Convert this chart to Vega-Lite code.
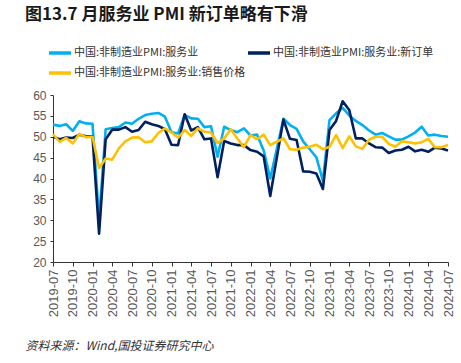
{
  "$schema": "https://vega.github.io/schema/vega-lite/v6.json",
  "width": 395,
  "height": 167,
  "autosize": {"type": "none"},
  "padding": {"left": 53, "top": 95, "right": 13, "bottom": 101},
  "background": "white",
  "config": {"view": {"stroke": null}, "font": "Liberation Sans"},
  "title": {
    "text": "图13.7 月服务业 PMI 新订单略有下滑",
    "anchor": "start",
    "frame": "group",
    "dx": -28,
    "offset": 3,
    "baseline": "alphabetic",
    "font": "Noto Sans CJK SC",
    "fontSize": 17,
    "fontWeight": "bold",
    "color": "#1a1a1a"
  },
  "datasets": {
    "pmi": [
      {"month":"2019-07","series":"中国:非制造业PMI:服务业","value":52.9},
      {"month":"2019-08","series":"中国:非制造业PMI:服务业","value":52.6},
      {"month":"2019-09","series":"中国:非制造业PMI:服务业","value":53.0},
      {"month":"2019-10","series":"中国:非制造业PMI:服务业","value":51.4},
      {"month":"2019-11","series":"中国:非制造业PMI:服务业","value":53.7},
      {"month":"2019-12","series":"中国:非制造业PMI:服务业","value":53.2},
      {"month":"2020-01","series":"中国:非制造业PMI:服务业","value":53.1},
      {"month":"2020-02","series":"中国:非制造业PMI:服务业","value":30.1},
      {"month":"2020-03","series":"中国:非制造业PMI:服务业","value":51.8},
      {"month":"2020-04","series":"中国:非制造业PMI:服务业","value":52.1},
      {"month":"2020-05","series":"中国:非制造业PMI:服务业","value":52.3},
      {"month":"2020-06","series":"中国:非制造业PMI:服务业","value":53.4},
      {"month":"2020-07","series":"中国:非制造业PMI:服务业","value":53.1},
      {"month":"2020-08","series":"中国:非制造业PMI:服务业","value":54.3},
      {"month":"2020-09","series":"中国:非制造业PMI:服务业","value":55.2},
      {"month":"2020-10","series":"中国:非制造业PMI:服务业","value":55.5},
      {"month":"2020-11","series":"中国:非制造业PMI:服务业","value":55.7},
      {"month":"2020-12","series":"中国:非制造业PMI:服务业","value":54.8},
      {"month":"2021-01","series":"中国:非制造业PMI:服务业","value":51.1},
      {"month":"2021-02","series":"中国:非制造业PMI:服务业","value":50.8},
      {"month":"2021-03","series":"中国:非制造业PMI:服务业","value":55.2},
      {"month":"2021-04","series":"中国:非制造业PMI:服务业","value":54.4},
      {"month":"2021-05","series":"中国:非制造业PMI:服务业","value":54.3},
      {"month":"2021-06","series":"中国:非制造业PMI:服务业","value":52.3},
      {"month":"2021-07","series":"中国:非制造业PMI:服务业","value":52.5},
      {"month":"2021-08","series":"中国:非制造业PMI:服务业","value":45.2},
      {"month":"2021-09","series":"中国:非制造业PMI:服务业","value":52.4},
      {"month":"2021-10","series":"中国:非制造业PMI:服务业","value":51.6},
      {"month":"2021-11","series":"中国:非制造业PMI:服务业","value":51.1},
      {"month":"2021-12","series":"中国:非制造业PMI:服务业","value":52.0},
      {"month":"2022-01","series":"中国:非制造业PMI:服务业","value":50.3},
      {"month":"2022-02","series":"中国:非制造业PMI:服务业","value":50.5},
      {"month":"2022-03","series":"中国:非制造业PMI:服务业","value":46.7},
      {"month":"2022-04","series":"中国:非制造业PMI:服务业","value":40.0},
      {"month":"2022-05","series":"中国:非制造业PMI:服务业","value":47.1},
      {"month":"2022-06","series":"中国:非制造业PMI:服务业","value":54.3},
      {"month":"2022-07","series":"中国:非制造业PMI:服务业","value":52.8},
      {"month":"2022-08","series":"中国:非制造业PMI:服务业","value":51.9},
      {"month":"2022-09","series":"中国:非制造业PMI:服务业","value":48.9},
      {"month":"2022-10","series":"中国:非制造业PMI:服务业","value":47.0},
      {"month":"2022-11","series":"中国:非制造业PMI:服务业","value":45.1},
      {"month":"2022-12","series":"中国:非制造业PMI:服务业","value":39.4},
      {"month":"2023-01","series":"中国:非制造业PMI:服务业","value":54.0},
      {"month":"2023-02","series":"中国:非制造业PMI:服务业","value":55.6},
      {"month":"2023-03","series":"中国:非制造业PMI:服务业","value":56.9},
      {"month":"2023-04","series":"中国:非制造业PMI:服务业","value":55.1},
      {"month":"2023-05","series":"中国:非制造业PMI:服务业","value":53.8},
      {"month":"2023-06","series":"中国:非制造业PMI:服务业","value":52.8},
      {"month":"2023-07","series":"中国:非制造业PMI:服务业","value":51.5},
      {"month":"2023-08","series":"中国:非制造业PMI:服务业","value":50.5},
      {"month":"2023-09","series":"中国:非制造业PMI:服务业","value":50.9},
      {"month":"2023-10","series":"中国:非制造业PMI:服务业","value":50.1},
      {"month":"2023-11","series":"中国:非制造业PMI:服务业","value":49.3},
      {"month":"2023-12","series":"中国:非制造业PMI:服务业","value":49.3},
      {"month":"2024-01","series":"中国:非制造业PMI:服务业","value":50.1},
      {"month":"2024-02","series":"中国:非制造业PMI:服务业","value":51.0},
      {"month":"2024-03","series":"中国:非制造业PMI:服务业","value":52.4},
      {"month":"2024-04","series":"中国:非制造业PMI:服务业","value":50.3},
      {"month":"2024-05","series":"中国:非制造业PMI:服务业","value":50.5},
      {"month":"2024-06","series":"中国:非制造业PMI:服务业","value":50.2},
      {"month":"2024-07","series":"中国:非制造业PMI:服务业","value":50.0},
      {"month":"2019-07","series":"中国:非制造业PMI:服务业:新订单","value":50.0},
      {"month":"2019-08","series":"中国:非制造业PMI:服务业:新订单","value":49.4},
      {"month":"2019-09","series":"中国:非制造业PMI:服务业:新订单","value":49.8},
      {"month":"2019-10","series":"中国:非制造业PMI:服务业:新订单","value":49.7},
      {"month":"2019-11","series":"中国:非制造业PMI:服务业:新订单","value":50.5},
      {"month":"2019-12","series":"中国:非制造业PMI:服务业:新订单","value":50.1},
      {"month":"2020-01","series":"中国:非制造业PMI:服务业:新订单","value":50.1},
      {"month":"2020-02","series":"中国:非制造业PMI:服务业:新订单","value":26.8},
      {"month":"2020-03","series":"中国:非制造业PMI:服务业:新订单","value":49.4},
      {"month":"2020-04","series":"中国:非制造业PMI:服务业:新订单","value":51.7},
      {"month":"2020-05","series":"中国:非制造业PMI:服务业:新订单","value":51.7},
      {"month":"2020-06","series":"中国:非制造业PMI:服务业:新订单","value":52.3},
      {"month":"2020-07","series":"中国:非制造业PMI:服务业:新订单","value":51.2},
      {"month":"2020-08","series":"中国:非制造业PMI:服务业:新订单","value":51.6},
      {"month":"2020-09","series":"中国:非制造业PMI:服务业:新订单","value":53.6},
      {"month":"2020-10","series":"中国:非制造业PMI:服务业:新订单","value":53.0},
      {"month":"2020-11","series":"中国:非制造业PMI:服务业:新订单","value":52.6},
      {"month":"2020-12","series":"中国:非制造业PMI:服务业:新订单","value":51.8},
      {"month":"2021-01","series":"中国:非制造业PMI:服务业:新订单","value":48.1},
      {"month":"2021-02","series":"中国:非制造业PMI:服务业:新订单","value":48.0},
      {"month":"2021-03","series":"中国:非制造业PMI:服务业:新订单","value":55.4},
      {"month":"2021-04","series":"中国:非制造业PMI:服务业:新订单","value":51.5},
      {"month":"2021-05","series":"中国:非制造业PMI:服务业:新订单","value":52.3},
      {"month":"2021-06","series":"中国:非制造业PMI:服务业:新订单","value":49.4},
      {"month":"2021-07","series":"中国:非制造业PMI:服务业:新订单","value":49.6},
      {"month":"2021-08","series":"中国:非制造业PMI:服务业:新订单","value":40.3},
      {"month":"2021-09","series":"中国:非制造业PMI:服务业:新订单","value":49.0},
      {"month":"2021-10","series":"中国:非制造业PMI:服务业:新订单","value":48.4},
      {"month":"2021-11","series":"中国:非制造业PMI:服务业:新订单","value":48.0},
      {"month":"2021-12","series":"中国:非制造业PMI:服务业:新订单","value":48.0},
      {"month":"2022-01","series":"中国:非制造业PMI:服务业:新订单","value":46.8},
      {"month":"2022-02","series":"中国:非制造业PMI:服务业:新订单","value":46.4},
      {"month":"2022-03","series":"中国:非制造业PMI:服务业:新订单","value":45.3},
      {"month":"2022-04","series":"中国:非制造业PMI:服务业:新订单","value":35.8},
      {"month":"2022-05","series":"中国:非制造业PMI:服务业:新订单","value":45.0},
      {"month":"2022-06","series":"中国:非制造业PMI:服务业:新订单","value":54.1},
      {"month":"2022-07","series":"中国:非制造业PMI:服务业:新订单","value":49.5},
      {"month":"2022-08","series":"中国:非制造业PMI:服务业:新订单","value":49.2},
      {"month":"2022-09","series":"中国:非制造业PMI:服务业:新订单","value":41.7},
      {"month":"2022-10","series":"中国:非制造业PMI:服务业:新订单","value":41.6},
      {"month":"2022-11","series":"中国:非制造业PMI:服务业:新订单","value":41.2},
      {"month":"2022-12","series":"中国:非制造业PMI:服务业:新订单","value":37.5},
      {"month":"2023-01","series":"中国:非制造业PMI:服务业:新订单","value":51.6},
      {"month":"2023-02","series":"中国:非制造业PMI:服务业:新订单","value":53.8},
      {"month":"2023-03","series":"中国:非制造业PMI:服务业:新订单","value":58.5},
      {"month":"2023-04","series":"中国:非制造业PMI:服务业:新订单","value":56.4},
      {"month":"2023-05","series":"中国:非制造业PMI:服务业:新订单","value":49.6},
      {"month":"2023-06","series":"中国:非制造业PMI:服务业:新订单","value":49.6},
      {"month":"2023-07","series":"中国:非制造业PMI:服务业:新订单","value":48.4},
      {"month":"2023-08","series":"中国:非制造业PMI:服务业:新订单","value":47.5},
      {"month":"2023-09","series":"中国:非制造业PMI:服务业:新订单","value":47.4},
      {"month":"2023-10","series":"中国:非制造业PMI:服务业:新订单","value":46.1},
      {"month":"2023-11","series":"中国:非制造业PMI:服务业:新订单","value":46.7},
      {"month":"2023-12","series":"中国:非制造业PMI:服务业:新订单","value":46.9},
      {"month":"2024-01","series":"中国:非制造业PMI:服务业:新订单","value":47.6},
      {"month":"2024-02","series":"中国:非制造业PMI:服务业:新订单","value":46.5},
      {"month":"2024-03","series":"中国:非制造业PMI:服务业:新订单","value":46.9},
      {"month":"2024-04","series":"中国:非制造业PMI:服务业:新订单","value":46.4},
      {"month":"2024-05","series":"中国:非制造业PMI:服务业:新订单","value":47.4},
      {"month":"2024-06","series":"中国:非制造业PMI:服务业:新订单","value":47.2},
      {"month":"2024-07","series":"中国:非制造业PMI:服务业:新订单","value":46.7},
      {"month":"2019-07","series":"中国:非制造业PMI:服务业:销售价格","value":50.6},
      {"month":"2019-08","series":"中国:非制造业PMI:服务业:销售价格","value":48.8},
      {"month":"2019-09","series":"中国:非制造业PMI:服务业:销售价格","value":49.7},
      {"month":"2019-10","series":"中国:非制造业PMI:服务业:销售价格","value":48.4},
      {"month":"2019-11","series":"中国:非制造业PMI:服务业:销售价格","value":50.7},
      {"month":"2019-12","series":"中国:非制造业PMI:服务业:销售价格","value":49.9},
      {"month":"2020-01","series":"中国:非制造业PMI:服务业:销售价格","value":50.0},
      {"month":"2020-02","series":"中国:非制造业PMI:服务业:销售价格","value":42.5},
      {"month":"2020-03","series":"中国:非制造业PMI:服务业:销售价格","value":44.8},
      {"month":"2020-04","series":"中国:非制造业PMI:服务业:销售价格","value":44.5},
      {"month":"2020-05","series":"中国:非制造业PMI:服务业:销售价格","value":47.2},
      {"month":"2020-06","series":"中国:非制造业PMI:服务业:销售价格","value":48.9},
      {"month":"2020-07","series":"中国:非制造业PMI:服务业:销售价格","value":49.8},
      {"month":"2020-08","series":"中国:非制造业PMI:服务业:销售价格","value":49.9},
      {"month":"2020-09","series":"中国:非制造业PMI:服务业:销售价格","value":48.7},
      {"month":"2020-10","series":"中国:非制造业PMI:服务业:销售价格","value":48.9},
      {"month":"2020-11","series":"中国:非制造业PMI:服务业:销售价格","value":50.9},
      {"month":"2020-12","series":"中国:非制造业PMI:服务业:销售价格","value":52.0},
      {"month":"2021-01","series":"中国:非制造业PMI:服务业:销售价格","value":51.0},
      {"month":"2021-02","series":"中国:非制造业PMI:服务业:销售价格","value":49.8},
      {"month":"2021-03","series":"中国:非制造业PMI:服务业:销售价格","value":51.6},
      {"month":"2021-04","series":"中国:非制造业PMI:服务业:销售价格","value":50.2},
      {"month":"2021-05","series":"中国:非制造业PMI:服务业:销售价格","value":52.0},
      {"month":"2021-06","series":"中国:非制造业PMI:服务业:销售价格","value":51.2},
      {"month":"2021-07","series":"中国:非制造业PMI:服务业:销售价格","value":51.0},
      {"month":"2021-08","series":"中国:非制造业PMI:服务业:销售价格","value":48.5},
      {"month":"2021-09","series":"中国:非制造业PMI:服务业:销售价格","value":49.6},
      {"month":"2021-10","series":"中国:非制造业PMI:服务业:销售价格","value":51.8},
      {"month":"2021-11","series":"中国:非制造业PMI:服务业:销售价格","value":49.6},
      {"month":"2021-12","series":"中国:非制造业PMI:服务业:销售价格","value":47.5},
      {"month":"2022-01","series":"中国:非制造业PMI:服务业:销售价格","value":50.4},
      {"month":"2022-02","series":"中国:非制造业PMI:服务业:销售价格","value":49.4},
      {"month":"2022-03","series":"中国:非制造业PMI:服务业:销售价格","value":50.5},
      {"month":"2022-04","series":"中国:非制造业PMI:服务业:销售价格","value":48.0},
      {"month":"2022-05","series":"中国:非制造业PMI:服务业:销售价格","value":48.8},
      {"month":"2022-06","series":"中国:非制造业PMI:服务业:销售价格","value":49.6},
      {"month":"2022-07","series":"中国:非制造业PMI:服务业:销售价格","value":47.0},
      {"month":"2022-08","series":"中国:非制造业PMI:服务业:销售价格","value":46.9},
      {"month":"2022-09","series":"中国:非制造业PMI:服务业:销售价格","value":47.4},
      {"month":"2022-10","series":"中国:非制造业PMI:服务业:销售价格","value":47.6},
      {"month":"2022-11","series":"中国:非制造业PMI:服务业:销售价格","value":48.1},
      {"month":"2022-12","series":"中国:非制造业PMI:服务业:销售价格","value":47.0},
      {"month":"2023-01","series":"中国:非制造业PMI:服务业:销售价格","value":47.6},
      {"month":"2023-02","series":"中国:非制造业PMI:服务业:销售价格","value":50.4},
      {"month":"2023-03","series":"中国:非制造业PMI:服务业:销售价格","value":47.3},
      {"month":"2023-04","series":"中国:非制造业PMI:服务业:销售价格","value":50.1},
      {"month":"2023-05","series":"中国:非制造业PMI:服务业:销售价格","value":47.7},
      {"month":"2023-06","series":"中国:非制造业PMI:服务业:销售价格","value":47.1},
      {"month":"2023-07","series":"中国:非制造业PMI:服务业:销售价格","value":49.3},
      {"month":"2023-08","series":"中国:非制造业PMI:服务业:销售价格","value":50.0},
      {"month":"2023-09","series":"中国:非制造业PMI:服务业:销售价格","value":50.0},
      {"month":"2023-10","series":"中国:非制造业PMI:服务业:销售价格","value":48.3},
      {"month":"2023-11","series":"中国:非制造业PMI:服务业:销售价格","value":47.6},
      {"month":"2023-12","series":"中国:非制造业PMI:服务业:销售价格","value":48.9},
      {"month":"2024-01","series":"中国:非制造业PMI:服务业:销售价格","value":48.7},
      {"month":"2024-02","series":"中国:非制造业PMI:服务业:销售价格","value":48.4},
      {"month":"2024-03","series":"中国:非制造业PMI:服务业:销售价格","value":48.7},
      {"month":"2024-04","series":"中国:非制造业PMI:服务业:销售价格","value":49.5},
      {"month":"2024-05","series":"中国:非制造业PMI:服务业:销售价格","value":47.5},
      {"month":"2024-06","series":"中国:非制造业PMI:服务业:销售价格","value":47.5},
      {"month":"2024-07","series":"中国:非制造业PMI:服务业:销售价格","value":48.0}
    ]
  },
  "data": {"name": "pmi"},
  "mark": {"type": "line", "strokeWidth": 2.6, "strokeJoin": "round"},
  "encoding": {
    "x": {
      "field": "month",
      "type": "ordinal",
      "sort": null,
      "scale": {"type": "point", "padding": 0},
      "axis": {
        "values": ["2019-07","2019-10","2020-01","2020-04","2020-07","2020-10","2021-01","2021-04","2021-07","2021-10","2022-01","2022-04","2022-07","2022-10","2023-01","2023-04","2023-07","2023-10","2024-01","2024-04","2024-07"],
        "labelAngle": -90,
        "labelFontSize": 13,
        "labelColor": "#595959",
        "labelPadding": 3,
        "tickSize": 4,
        "tickColor": "#333333",
        "domainColor": "#333333",
        "grid": false,
        "title": "资料来源：Wind,国投证券研究中心",
        "titleFont": "Noto Sans CJK SC",
        "titleFontStyle": "italic",
        "titleFontWeight": "normal",
        "titleFontSize": 12,
        "titleColor": "#333333",
        "titleAnchor": "start",
        "titleAlign": "left",
        "titleBaseline": "alphabetic",
        "titleX": -28,
        "titleY": 87
      }
    },
    "y": {
      "field": "value",
      "type": "quantitative",
      "scale": {"domain": [20, 60], "nice": false, "zero": false},
      "axis": {
        "values": [20,25,30,35,40,45,50,55,60],
        "labelFontSize": 12,
        "labelColor": "#595959",
        "labelPadding": 4,
        "tickSize": 3,
        "tickColor": "#333333",
        "domainColor": "#333333",
        "grid": false,
        "title": null
      }
    },
    "color": {
      "field": "series",
      "type": "nominal",
      "scale": {
        "domain": ["中国:非制造业PMI:服务业", "中国:非制造业PMI:服务业:新订单", "中国:非制造业PMI:服务业:销售价格"],
        "range": ["#00B0F0", "#002060", "#FFC000"]
      },
      "legend": {
        "orient": "none",
        "legendX": -6,
        "legendY": -55,
        "direction": "horizontal",
        "columns": 2,
        "title": null,
        "symbolType": "stroke",
        "symbolSize": 484,
        "symbolStrokeWidth": 3.5,
        "labelFont": "Noto Sans CJK SC",
        "labelFontSize": 11,
        "labelLimit": 300,
        "labelColor": "#333333",
        "labelOffset": 1,
        "columnPadding": -5,
        "rowPadding": 0,
        "padding": 0
      }
    }
  }
}
